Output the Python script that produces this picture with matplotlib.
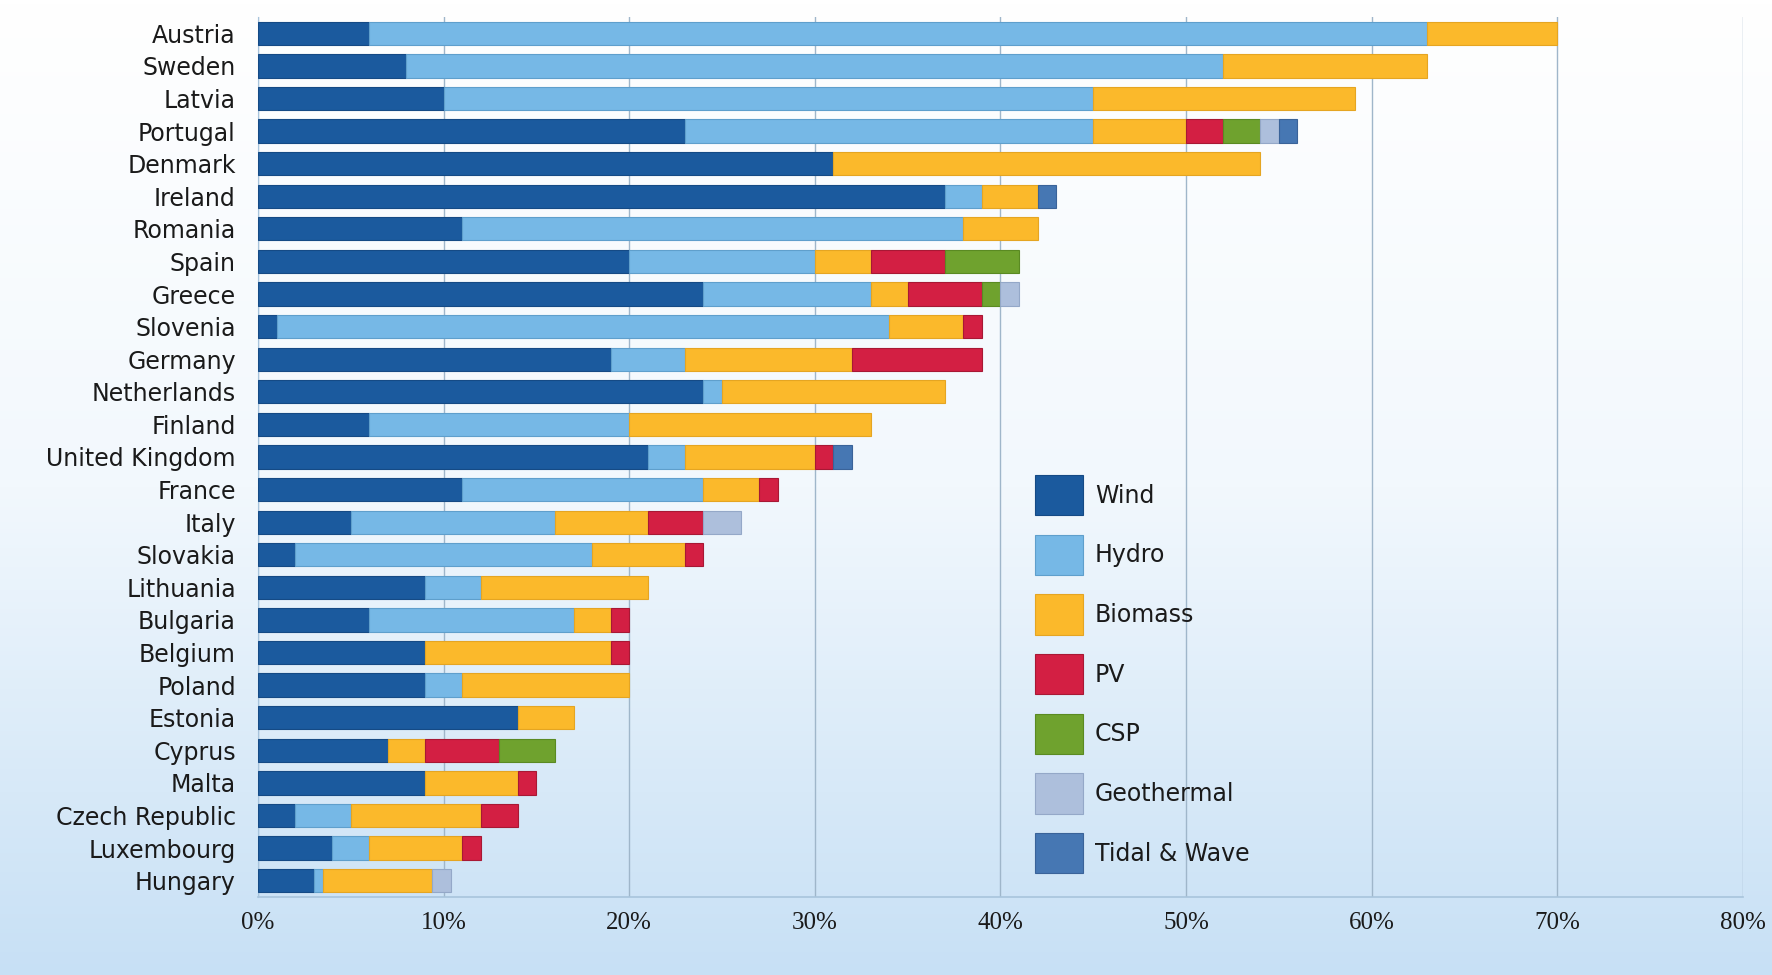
import numpy as np
import matplotlib
matplotlib.use("Agg")
import matplotlib.pyplot as plt
from matplotlib.colors import LinearSegmentedColormap

countries = ["Austria", "Sweden", "Latvia", "Portugal", "Denmark", "Ireland", "Romania",
             "Spain", "Greece", "Slovenia", "Germany", "Netherlands", "Finland",
             "United Kingdom", "France", "Italy", "Slovakia", "Lithuania", "Bulgaria",
             "Belgium", "Poland", "Estonia", "Cyprus", "Malta", "Czech Republic",
             "Luxembourg", "Hungary"]

wind    = [6, 8, 10, 23, 31, 37, 11, 20, 24, 1, 19, 24, 6, 21, 11, 5, 2, 9, 6, 9, 9, 14, 7, 9, 2, 4, 3]
hydro   = [57, 44, 35, 22, 0, 2, 27, 10, 9, 33, 4, 1, 14, 2, 13, 11, 16, 3, 11, 0, 2, 0, 0, 0, 3, 2, 0.5]
biomass = [7, 11, 14.1, 5, 23, 3, 4, 3, 2, 4, 9, 12, 13, 7, 3, 5, 5, 9, 2, 10, 9, 3, 2, 5, 7, 5, 5.9]
pv      = [0, 0, 0, 2, 0, 0, 0, 4, 4, 1, 7, 0, 0, 1, 1, 3, 1, 0, 1, 1, 0, 0, 4, 1, 2, 1, 0]
csp     = [0, 0, 0, 2, 0, 0, 0, 4, 1, 0, 0, 0, 0, 0, 0, 0, 0, 0, 0, 0, 0, 0, 3, 0, 0, 0, 0]
geo     = [0, 0, 0, 1, 0, 0, 0, 0, 1, 0, 0, 0, 0, 0, 0, 2, 0, 0, 0, 0, 0, 0, 0, 0, 0, 0, 1]
tidal   = [0, 0, 0, 1, 0, 1, 0, 0, 0, 0, 0, 0, 0, 1, 0, 0, 0, 0, 0, 0, 0, 0, 0, 0, 0, 0, 0]

series_names = ["Wind", "Hydro", "Biomass", "PV", "CSP", "Geothermal", "Tidal & Wave"]
series_vals = [wind, hydro, biomass, pv, csp, geo, tidal]
colors = ["#1b5a9e", "#76b8e6", "#fbb92b", "#d31f43", "#6fa22e", "#adbfdc", "#4677b3"]
edges = ["#154a85", "#5f9fcc", "#e5a522", "#a81834", "#5a8a22", "#94a8c8", "#3a6399"]
xticks = [0, 10, 20, 30, 40, 50, 60, 70, 80]
xtick_labels = [f"{v}%" for v in xticks]

fig = plt.figure(figsize=(17.72, 9.75), dpi=100)

# gradient background
bg = fig.add_axes([0, 0, 1, 1], zorder=0)
cmap = LinearSegmentedColormap.from_list("bg", ["#ffffff", "#f2f8fd", "#c7e0f5"])
grad = np.linspace(0, 1, 256).reshape(-1, 1)
bg.imshow(grad, aspect="auto", cmap=cmap, extent=[0, 1, 0, 1], origin="upper")
bg.axis("off")

ax = fig.add_axes([0.1456, 0.080, 0.9836 - 0.1456, 0.9026], zorder=1)
ax.set_facecolor("none")

y = np.arange(len(countries))
left = np.zeros(len(countries))
for name, vals, c, ec in zip(series_names, series_vals, colors, edges):
    vals = np.array(vals, dtype=float)
    nz = vals > 0
    ax.barh(y[nz], vals[nz], left=left[nz], height=0.715, color=c, edgecolor=ec,
            linewidth=0.8, label=name, zorder=3)
    left += vals

ax.set_xlim(0, 80)
ax.set_ylim(len(countries) - 0.5, -0.5)
ax.set_yticks(y)
ax.set_yticklabels(countries, fontsize=17, family="DejaVu Sans", color="#1a1a1a")
ax.set_xticks(xticks)
ax.set_xticklabels(xtick_labels, fontsize=18, family="Liberation Serif", color="#1a1a1a")
ax.tick_params(axis="y", length=0, pad=16)
ax.tick_params(axis="x", length=0, pad=11)
ax.xaxis.grid(True, color="#9fb6ca", linewidth=1.0, zorder=1)
ax.set_axisbelow(True)
for s in ["top", "right"]:
    ax.spines[s].set_visible(False)
ax.spines["left"].set_color("#a8c4dc")
ax.spines["bottom"].set_color("#a8c4dc")
ax.spines["bottom"].set_linewidth(1.2)

leg = ax.legend(loc="upper left", bbox_to_anchor=(1035 / 1772, 1 - 475 / 975),
                bbox_transform=fig.transFigure, frameon=False, fontsize=17,
                handlelength=2.03, handleheight=2.25, labelspacing=0.82,
                handletextpad=0.5, borderpad=0, borderaxespad=0)
for t in leg.get_texts():
    t.set_color("#1a1a1a")

fig.savefig("out.png", dpi=100)
